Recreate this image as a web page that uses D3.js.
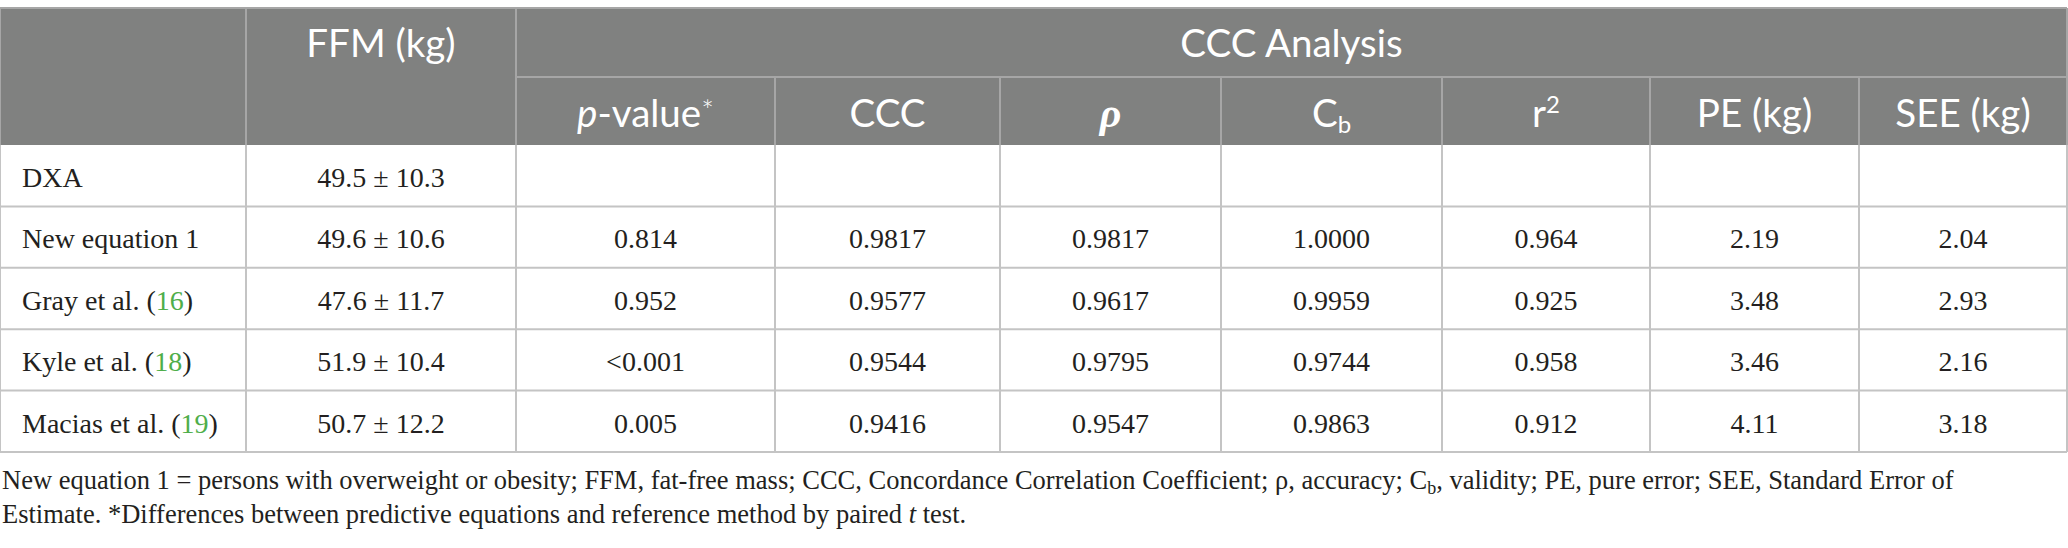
<!DOCTYPE html>
<html>
<head>
<meta charset="utf-8">
<script src="https://cdn.jsdelivr.net/npm/d3@7.9.0/dist/d3.min.js"></script>
<style>
  html, body { margin: 0; padding: 0; background: #fff; }
  svg { display: block; }
  .hd { font-family: Lato, "Open Sans", sans-serif; fill: #fff; }
  .bd { font-family: "Liberation Serif", serif; fill: #231f20; }
</style>
</head>
<body>
<svg id="chart" width="2068" height="548"></svg>
<script>
// table data
const methods = ["DXA", "New equation 1", "Gray et al.", "Kyle et al.", "Macias et al."];
const refs = [null, null, "16", "18", "19"];
const ffmMean = [49.5, 49.6, 47.6, 51.9, 50.7];
const ffmSd = [10.3, 10.6, 11.7, 10.4, 12.2];
const pValues = [null, "0.814", "0.952", "<0.001", "0.005"];
const ccc = [null, 0.9817, 0.9577, 0.9544, 0.9416];
const rho = [null, 0.9817, 0.9617, 0.9795, 0.9547];
const cb = [null, 1.0000, 0.9959, 0.9744, 0.9863];
const r2 = [null, 0.964, 0.925, 0.958, 0.912];
const pe = [null, 2.19, 3.48, 3.46, 4.11];
const see = [null, 2.04, 2.93, 2.16, 3.18];

// layout
const colW = [246, 270, 259, 225, 221, 221, 208, 209, 208];
const edges = [0, ...d3.cumsum(colW)];
const cx = i => (edges[i] + edges[i + 1]) / 2;
const tableTop = 8, headMid = 77, headBottom = 145, tableBottom = 452;

const svg = d3.select("#chart");

const y = d3.scaleBand().domain(methods).range([headBottom, tableBottom]);

// header background
svg.append("rect")
  .attr("x", 0).attr("y", tableTop)
  .attr("width", edges[edges.length - 1]).attr("height", headBottom - tableTop)
  .attr("fill", "#808180");

const headLine = "#a6a6a6";
const bodyLine = "#c4c4c4";

// header lines
svg.append("line").attr("x1", 0).attr("x2", edges[9]).attr("y1", tableTop).attr("y2", tableTop)
  .attr("stroke", headLine).attr("stroke-width", 2);
svg.append("line").attr("x1", edges[2]).attr("x2", edges[9]).attr("y1", headMid).attr("y2", headMid)
  .attr("stroke", headLine).attr("stroke-width", 2);
svg.selectAll(".vh").data(d3.range(0, 10)).join("line")
  .attr("x1", d => edges[d]).attr("x2", d => edges[d])
  .attr("y1", d => d <= 2 || d === 9 ? tableTop : headMid).attr("y2", headBottom)
  .attr("stroke", headLine).attr("stroke-width", 2);

// header labels
const h = svg.append("g").attr("class", "hd").attr("font-size", 38.5).attr("text-anchor", "middle");
h.append("text").attr("x", cx(1)).attr("y", 57).text("FFM (kg)");
h.append("text").attr("x", (edges[2] + edges[9]) / 2).attr("y", 57).text("CCC Analysis");

const sub = [
  { col: 2, parts: [["p", "italic"], ["-value", null], ["*", "sup"]] },
  { col: 3, parts: [["CCC", null]] },
  { col: 4, parts: [["\u03c1", "rho"]] },
  { col: 5, parts: [["C", null], ["b", "sub"]] },
  { col: 6, parts: [["r", null], ["2", "sup2"]] },
  { col: 7, parts: [["PE (kg)", null]] },
  { col: 8, parts: [["SEE (kg)", null]] }
];
sub.forEach(s => {
  const t = h.append("text").attr("x", cx(s.col)).attr("y", 127);
  s.parts.forEach(([txt, kind]) => {
    const ts = t.append("tspan").text(txt);
    if (kind === "italic") ts.attr("font-style", "italic");
    if (kind === "sup") ts.attr("font-size", 30).attr("font-weight", 300).attr("dy", -6);
    if (kind === "rho") ts.attr("font-family", "Liberation Serif").attr("font-style", "italic").attr("font-weight", "bold").attr("font-size", 42);
    if (kind === "sub") ts.attr("font-size", 24).attr("dy", 6);
    if (kind === "sup2") ts.attr("font-size", 24).attr("dy", -14);
  });
});

// body lines
svg.selectAll(".hr").data(methods).join("line")
  .attr("x1", 0).attr("x2", edges[9])
  .attr("y1", d => y(d) + y.bandwidth()).attr("y2", d => y(d) + y.bandwidth())
  .attr("stroke", bodyLine).attr("stroke-width", 2);
svg.selectAll(".vb").data(d3.range(0, 10)).join("line")
  .attr("x1", d => edges[d]).attr("x2", d => edges[d])
  .attr("y1", headBottom).attr("y2", tableBottom)
  .attr("stroke", bodyLine).attr("stroke-width", 2);

// body cells
const b = svg.append("g").attr("class", "bd").attr("font-size", 28);
const rows = b.selectAll("g.row").data(methods).join("g")
  .attr("transform", d => `translate(0,${y(d) + 42})`);

rows.each(function (m, i) {
  const g = d3.select(this);
  const t = g.append("text").attr("x", 22);
  t.append("tspan").text(refs[i] ? m + " (" : m);
  if (refs[i]) {
    t.append("tspan").attr("fill", "#4fae4a").text(refs[i]);
    t.append("tspan").text(")");
  }
  const vals = [
    `${ffmMean[i].toFixed(1)} \u00b1 ${ffmSd[i].toFixed(1)}`,
    pValues[i],
    ccc[i] == null ? null : ccc[i].toFixed(4),
    rho[i] == null ? null : rho[i].toFixed(4),
    cb[i] == null ? null : cb[i].toFixed(4),
    r2[i] == null ? null : r2[i].toFixed(3),
    pe[i] == null ? null : pe[i].toFixed(2),
    see[i] == null ? null : see[i].toFixed(2)
  ];
  vals.forEach((v, j) => {
    if (v == null) return;
    g.append("text").attr("x", cx(j + 1)).attr("text-anchor", "middle").text(v);
  });
});

// footnote
const f = svg.append("g").attr("class", "bd").attr("font-size", 26.5);
const l1 = f.append("text").attr("x", 2).attr("y", 489);
l1.append("tspan").text("New equation 1 = persons with overweight or obesity; FFM, fat-free mass; CCC, Concordance Correlation Coefficient; \u03c1, accuracy; C");
l1.append("tspan").attr("font-size", 18).attr("dy", 5).text("b");
l1.append("tspan").attr("dy", -5).text(", validity; PE, pure error; SEE, Standard Error of");
const l2 = f.append("text").attr("x", 2).attr("y", 523);
l2.append("tspan").text("Estimate. *Differences between predictive equations and reference method by paired ");
l2.append("tspan").attr("font-style", "italic").text("t");
l2.append("tspan").text(" test.");
</script>
</body>
</html>
